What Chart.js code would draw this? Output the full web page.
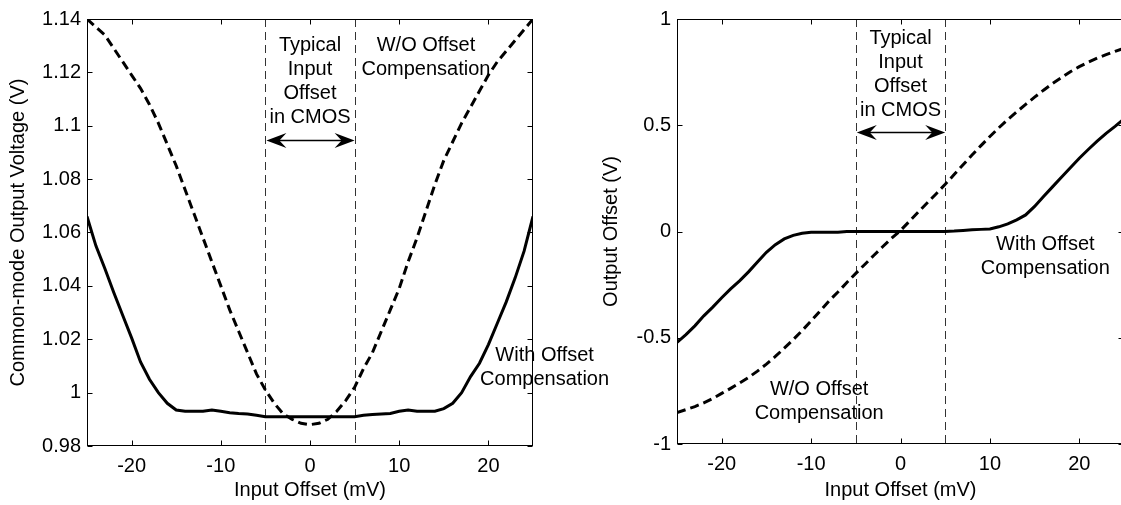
<!DOCTYPE html>
<html>
<head>
<meta charset="utf-8">
<script src="https://cdn.jsdelivr.net/npm/chart.js@4/dist/chart.umd.min.js"></script>
<style>
  html, body { margin: 0; padding: 0; background: #fff; }
  body { width: 1121px; height: 505px; overflow: hidden; position: relative; }
  canvas { position: absolute; top: 0; }
  #cmChart { left: 0; }
  #offChart { left: 590px; }
</style>
</head>
<body>
<canvas id="cmChart" width="630" height="505"></canvas>
<canvas id="offChart" width="536" height="505"></canvas>
<script>
// Input offset sweep (mV)
const inputOffset = [
  -25, -24, -23, -22, -21, -20, -19, -18, -17, -16, -15, -14, -13, -12, -11, -10, -9, -8, -7, -6, -5,
  -4, -3, -2, -1, 0, 1, 2, 3, 4, 5, 6, 7, 8, 9, 10, 11, 12, 13, 14, 15, 16, 17, 18, 19, 20,
  21, 22, 23, 24, 25
];

// Common-mode output voltage (V)
const cmWithout = [
  1.140, 1.137, 1.134, 1.129, 1.124, 1.119, 1.114, 1.108, 1.101, 1.093, 1.085, 1.076, 1.067, 1.058, 1.049, 1.040, 1.031, 1.023, 1.015, 1.007, 1.001,
  0.996, 0.992, 0.990, 0.9885, 0.988, 0.9885, 0.990, 0.993, 0.997, 1.002, 1.009, 1.015, 1.023, 1.031, 1.039, 1.049, 1.058, 1.068, 1.078, 1.087,
  1.094, 1.101, 1.107, 1.113, 1.119, 1.124, 1.128, 1.132, 1.136, 1.140
];
const cmWith = [
  1.066, 1.055, 1.0465, 1.0375, 1.029, 1.0205, 1.0115, 1.005, 1.000, 0.996, 0.9935, 0.993, 0.993, 0.993, 0.9935, 0.993, 0.9925, 0.9922, 0.992, 0.9915, 0.991,
  0.991, 0.991, 0.991, 0.991, 0.991, 0.991, 0.991, 0.991, 0.991, 0.991, 0.9915, 0.9918, 0.992, 0.9922, 0.993, 0.9935, 0.993, 0.993, 0.993, 0.994,
  0.996, 1.000, 1.006, 1.011, 1.018, 1.026, 1.034, 1.043, 1.053, 1.066
];

// Output offset (V)
const outWithout = [
  -0.852, -0.838, -0.824, -0.806, -0.786, -0.762, -0.738, -0.713, -0.687, -0.657, -0.624, -0.588, -0.549, -0.509, -0.466, -0.421, -0.374, -0.327, -0.285, -0.240, -0.197,
  -0.155, -0.113, -0.072, -0.032, 0.005, 0.048, 0.092, 0.135, 0.178, 0.222, 0.268, 0.314, 0.360, 0.404, 0.447, 0.488, 0.527, 0.563, 0.598, 0.632,
  0.665, 0.696, 0.724, 0.752, 0.776, 0.797, 0.816, 0.832, 0.848, 0.862
];
const outWith = [
  -0.522, -0.485, -0.444, -0.397, -0.356, -0.312, -0.270, -0.232, -0.190, -0.143, -0.098, -0.062, -0.035, -0.018, -0.008, -0.004, -0.003, -0.003, -0.003, 0, 0,
  0, 0, 0, 0, 0, 0, 0, 0, 0, 0, 0.002, 0.005, 0.008, 0.010, 0.012, 0.022, 0.036, 0.055, 0.078, 0.118,
  0.165, 0.210, 0.255, 0.300, 0.345, 0.386, 0.425, 0.462, 0.495, 0.530
];

// Typical CMOS input offset window (mV)
const typicalOffset = [-5, 5];

const xTicks = [-20, -10, 0, 10, 20];
const cmTicks = [0.98, 1.00, 1.02, 1.04, 1.06, 1.08, 1.10, 1.12, 1.14];
const outTicks = [-1, -0.5, 0, 0.5, 1];

const FONT = '"Liberation Sans", Arial, Helvetica, sans-serif';
Chart.defaults.font.family = FONT;
Chart.defaults.font.size = 20;
Chart.defaults.color = '#000';

const toPoints = (ys) => inputOffset.map((x, i) => ({ x: x, y: ys[i] }));
const fmt = (v) => String(+v.toFixed(2));

function arrowHead(ctx, tipX, y, dir) {
  ctx.beginPath();
  ctx.moveTo(tipX, y);
  ctx.lineTo(tipX - dir * 20, y - 7.5);
  ctx.lineTo(tipX - dir * 13, y);
  ctx.lineTo(tipX - dir * 20, y + 7.5);
  ctx.closePath();
  ctx.fill();
}

// MATLAB-style box, inward ticks, offset window, arrow and text labels
const framePlugin = {
  id: 'frame',
  beforeDatasetsDraw(chart) {
    const { ctx, chartArea: a, scales: { x } } = chart;
    ctx.save();
    ctx.strokeStyle = '#333';
    ctx.lineWidth = 1;
    ctx.setLineDash([8, 5]);
    typicalOffset.forEach(v => {
      const px = Math.round(x.getPixelForValue(v)) + 0.5;
      ctx.beginPath();
      ctx.moveTo(px, a.top);
      ctx.lineTo(px, a.bottom);
      ctx.stroke();
    });
    ctx.restore();
  },
  afterDatasetsDraw(chart, args, opts) {
    const { ctx, chartArea: a, scales: { x, y } } = chart;
    ctx.save();

    // box
    ctx.strokeStyle = '#000';
    ctx.lineWidth = 1;
    const l = Math.round(a.left) + 0.5, r = Math.round(a.right) - 0.5;
    const t = Math.round(a.top) + 0.5, b = Math.round(a.bottom) - 0.5;
    ctx.strokeRect(l, t, r - l, b - t);

    // inward ticks
    ctx.beginPath();
    xTicks.forEach(v => {
      const px = Math.round(x.getPixelForValue(v)) + 0.5;
      ctx.moveTo(px, b); ctx.lineTo(px, b - 5);
      ctx.moveTo(px, t); ctx.lineTo(px, t + 5);
    });
    opts.yTicks.forEach(v => {
      const py = Math.round(y.getPixelForValue(v)) + 0.5;
      ctx.moveTo(l, py); ctx.lineTo(l + 5, py);
      ctx.moveTo(r, py); ctx.lineTo(r - 5, py);
    });
    ctx.stroke();

    // double arrow across the typical offset window
    const ay = Math.round(y.getPixelForValue(opts.arrowY)) + 0.5;
    const x0 = x.getPixelForValue(typicalOffset[0]) + 1;
    const x1 = x.getPixelForValue(typicalOffset[1]);
    ctx.fillStyle = '#000';
    ctx.lineWidth = 1.3;
    ctx.beginPath();
    ctx.moveTo(x0 + 10, ay);
    ctx.lineTo(x1 - 10, ay);
    ctx.stroke();
    arrowHead(ctx, x0, ay, -1);
    arrowHead(ctx, x1, ay, 1);

    // labels
    ctx.font = '20px ' + FONT;
    ctx.textAlign = 'center';
    ctx.textBaseline = 'middle';
    opts.notes.forEach(n => {
      const px = x.getPixelForValue(n.x);
      const py = y.getPixelForValue(n.y);
      n.lines.forEach((s, i) => ctx.fillText(s, px, py + i * 24));
    });
    ctx.restore();
  }
};

function makeChart(id, opts) {
  return new Chart(document.getElementById(id), {
    type: 'line',
    data: {
      datasets: [
        {
          label: 'W/O Offset Compensation',
          data: toPoints(opts.without),
          borderColor: '#000',
          borderWidth: 3,
          borderDash: [9, 5],
          pointRadius: 0,
          tension: 0
        },
        {
          label: 'With Offset Compensation',
          data: toPoints(opts.withComp),
          borderColor: '#000',
          borderWidth: 3,
          pointRadius: 0,
          tension: 0
        }
      ]
    },
    options: {
      responsive: false,
      animation: false,
      layout: { padding: { top: 19, right: opts.padRight, bottom: 0, left: 0 } },
      plugins: {
        legend: { display: false },
        tooltip: { enabled: false },
        frame: { yTicks: opts.yTicks, arrowY: opts.arrowY, notes: opts.notes }
      },
      scales: {
        x: {
          type: 'linear',
          min: -25,
          max: 25,
          grid: { display: false, drawTicks: false },
          border: { display: false },
          afterBuildTicks: (s) => { s.ticks = xTicks.map(v => ({ value: v })); },
          afterFit: (s) => { s.height = opts.xHeight; },
          ticks: { padding: 8, maxRotation: 0, callback: (v) => String(v) },
          title: { display: true, text: 'Input Offset (mV)', padding: { top: 0, bottom: 3 } }
        },
        y: {
          min: opts.yTicks[0],
          max: opts.yTicks[opts.yTicks.length - 1],
          grid: { display: false, drawTicks: false },
          border: { display: false },
          afterBuildTicks: (s) => { s.ticks = opts.yTicks.map(v => ({ value: v })); },
          afterFit: (s) => { s.width = 87; },
          ticks: { padding: 6, callback: fmt },
          title: { display: true, text: opts.yTitle, padding: { top: opts.titlePad, bottom: 0 } }
        }
      }
    },
    plugins: [framePlugin]
  });
}

makeChart('cmChart', {
  without: cmWithout,
  withComp: cmWith,
  yTicks: cmTicks,
  yTitle: 'Common-mode Output Voltage (V)',
  titlePad: 6,
  padRight: 97,
  xHeight: 59,
  arrowY: 1.0947,
  notes: [
    { x: 0, y: 1.130, lines: ['Typical', 'Input', 'Offset', 'in CMOS'] },
    { x: 13, y: 1.130, lines: ['W/O Offset', 'Compensation'] },
    { x: 26.3, y: 1.014, lines: ['With Offset', 'Compensation'] }
  ]
});

makeChart('offChart', {
  without: outWithout,
  withComp: outWith,
  yTicks: outTicks,
  yTitle: 'Output Offset (V)',
  titlePad: 9,
  padRight: 2,
  xHeight: 61,
  arrowY: 0.466,
  notes: [
    { x: 0, y: 0.907, lines: ['Typical', 'Input', 'Offset', 'in CMOS'] },
    { x: 16.2, y: -0.06, lines: ['With Offset', 'Compensation'] },
    { x: -9.1, y: -0.742, lines: ['W/O Offset', 'Compensation'] }
  ]
});
</script>
</body>
</html>
